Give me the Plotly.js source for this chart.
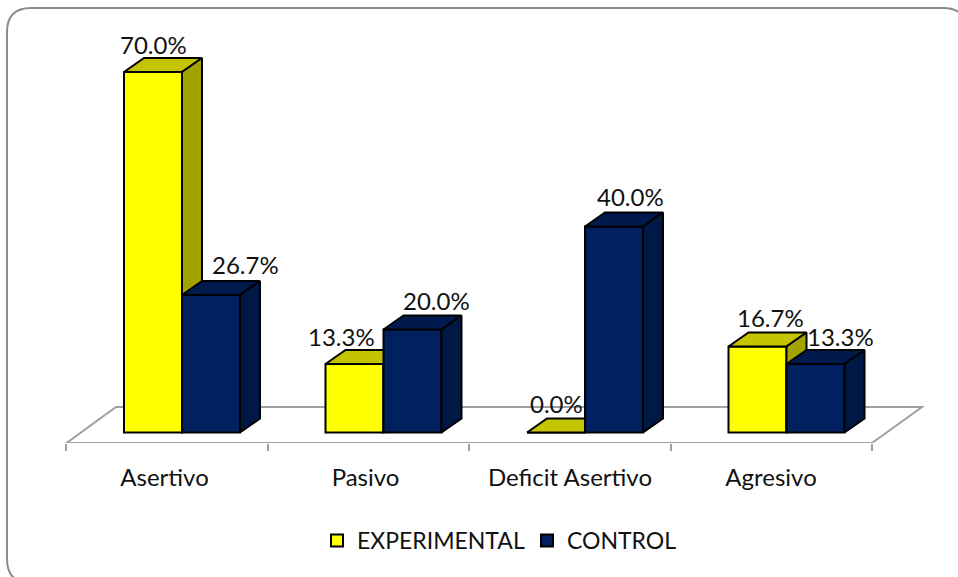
<!DOCTYPE html>
<html><head><meta charset="utf-8">
<script src="https://cdn.plot.ly/plotly-3.0.1.min.js"></script>
<style>html,body{margin:0;padding:0;background:#fff}</style></head>
<body><div id="chart" style="width:958px;height:577px"></div>
<script>
// ---- data ----
const categories = ['Asertivo','Pasivo','Deficit Asertivo','Agresivo'];
const experimental = [70.0,13.3,0.0,16.7];
const control = [26.7,20.0,40.0,13.3];
const seriesNames = ['EXPERIMENTAL','CONTROL'];

// ---- style / layout ----
const W=958,H=577, plotTop=10, plotBottom=443;
const pxPerCat=201.5, cat0Px=167, pxPerPct=5.15, zeroPx=432.5;
const FONT='Lato, Carlito, sans-serif', FS=24, LEGFS=23;
const xRange=[(0-cat0Px)/pxPerCat,(W-cat0Px)/pxPerCat];
const yRange=[(zeroPx-plotBottom)/pxPerPct,(zeroPx-plotTop)/pxPerPct];
const dxPx=20, dyPx=14, frontShift=15/pxPerCat, barW=58/pxPerCat;
const dX=dxPx/pxPerCat, dY=dyPx/pxPerPct;
const xp=p=>(p-cat0Px)/pxPerCat, yp=p=>(zeroPx-p)/pxPerPct;
const px=p=>p/W, py=p=>(plotBottom-p)/(plotBottom-plotTop);

function faces(vals,off){
  const top={x:[],y:[]}, side={x:[],y:[]};
  vals.forEach((v,i)=>{
    const L=i+frontShift+off, R=L+barW;
    top.x.push(L,L+dX,R+dX,R,L,null); top.y.push(v,v+dY,v+dY,v,v,null);
    side.x.push(R,R+dX,R+dX,R,R,null); side.y.push(v,v+dY,dY,0,v,null);
  });
  return {top,side};
}
function series(vals,name,off,colors,xa,ya){
  const f=faces(vals,off);
  const poly=(g,c)=>({type:'scatter',mode:'lines',x:g.x,y:g.y,fill:'toself',fillcolor:c,
    line:{color:'#000',width:2},xaxis:xa,yaxis:ya,showlegend:false,hoverinfo:'skip'});
  return [
    {type:'bar',name,x:categories.map((c,i)=>i+frontShift),y:vals,width:barW,offset:off,
     marker:{color:colors[0],line:{color:'#000',width:2}},xaxis:xa,yaxis:ya},
    poly(f.top,colors[1]),poly(f.side,colors[2])
  ];
}
const traces=[
  {type:'scatter',mode:'none',x:[0],y:[0],showlegend:false,hoverinfo:'skip'},
  ...series(experimental,seriesNames[0],-barW,['#FFFF00','#C4C400','#A3A300'],'x2','y2'),
  ...series(control,seriesNames[1],0,['#002060','#001A4D','#001845'],'x3','y3')
];
const labelDx=[[0,-13,0,13],[34,24,16,25]];
const labelDy=[[14,14,15,15],[17,15,16,14]];
const tickShift=[-2.5,-3,0,-0.5];
const annotations=[];
[experimental,control].forEach((vals,s)=>vals.forEach((v,i)=>{
  annotations.push({x:i+frontShift+(s?0.5:-0.5)*barW,y:v+dY,xref:'x',yref:'y',text:v.toFixed(1)+'%',showarrow:false,
    xshift:labelDx[s][i],yshift:labelDy[s][i],font:{family:FONT,size:FS,color:'#111'}});
}));
const gray='#A0A0A0';
const r=24,bL=7,bT=8,bR=967,bB=583;
const shapes=[
 {type:'path',xref:'paper',yref:'paper',layer:'below',line:{color:'#8C8C8C',width:2},
  path:`M${px(bL)},${py(bT+r)} Q${px(bL)},${py(bT)} ${px(bL+r)},${py(bT)} L${px(bR-r)},${py(bT)} Q${px(bR)},${py(bT)} ${px(bR)},${py(bT+r)} L${px(bR)},${py(bB-r)} Q${px(bR)},${py(bB)} ${px(bR-r)},${py(bB)} L${px(bL+r)},${py(bB)} Q${px(bL)},${py(bB)} ${px(bL)},${py(bB-r)} Z`},
 {type:'path',xref:'x',yref:'y',layer:'below',line:{color:gray,width:2},
  path:`M${xp(66.5)},${yp(443)} L${xp(116)},${yp(407)} L${xp(922)},${yp(407)} L${xp(872)},${yp(443)} Z`}
];
const layout={
  width:W,height:H,margin:{l:0,r:0,t:plotTop,b:H-plotBottom,pad:0},
  paper_bgcolor:'#fff',plot_bgcolor:'rgba(0,0,0,0)',barmode:'overlay',showlegend:true,
  font:{family:FONT,size:FS,color:'#111'},
  xaxis:{range:xRange,tickmode:'array',tickvals:categories.map((c,i)=>i+tickShift[i]/pxPerCat),ticktext:categories,ticks:'',ticklen:0,
    showgrid:false,zeroline:false,showline:false,ticklabelstandoff:18,tickfont:{family:FONT,size:FS,color:'#111'},
    minor:{tickmode:'array',tickvals:[-0.5,0.5,1.5,2.5,3.5],ticks:'outside',ticklen:7,tickwidth:2,tickcolor:gray,showgrid:false}},
  yaxis:{range:yRange,visible:false},
  xaxis2:{range:xRange,overlaying:'x',visible:false},yaxis2:{range:yRange,overlaying:'y',visible:false},
  xaxis3:{range:xRange,overlaying:'x',visible:false},yaxis3:{range:yRange,overlaying:'y',visible:false},
  legend:{orientation:'h',x:px(317),xanchor:'left',y:py(519),yanchor:'top',bgcolor:'rgba(0,0,0,0)',
    font:{family:FONT,size:LEGFS,color:'#111'},traceorder:'normal',entrywidth:165,entrywidthmode:'pixels'},
  annotations,shapes
};
Plotly.newPlot('chart',traces,layout,{displayModeBar:false,responsive:false});
</script></body></html>
